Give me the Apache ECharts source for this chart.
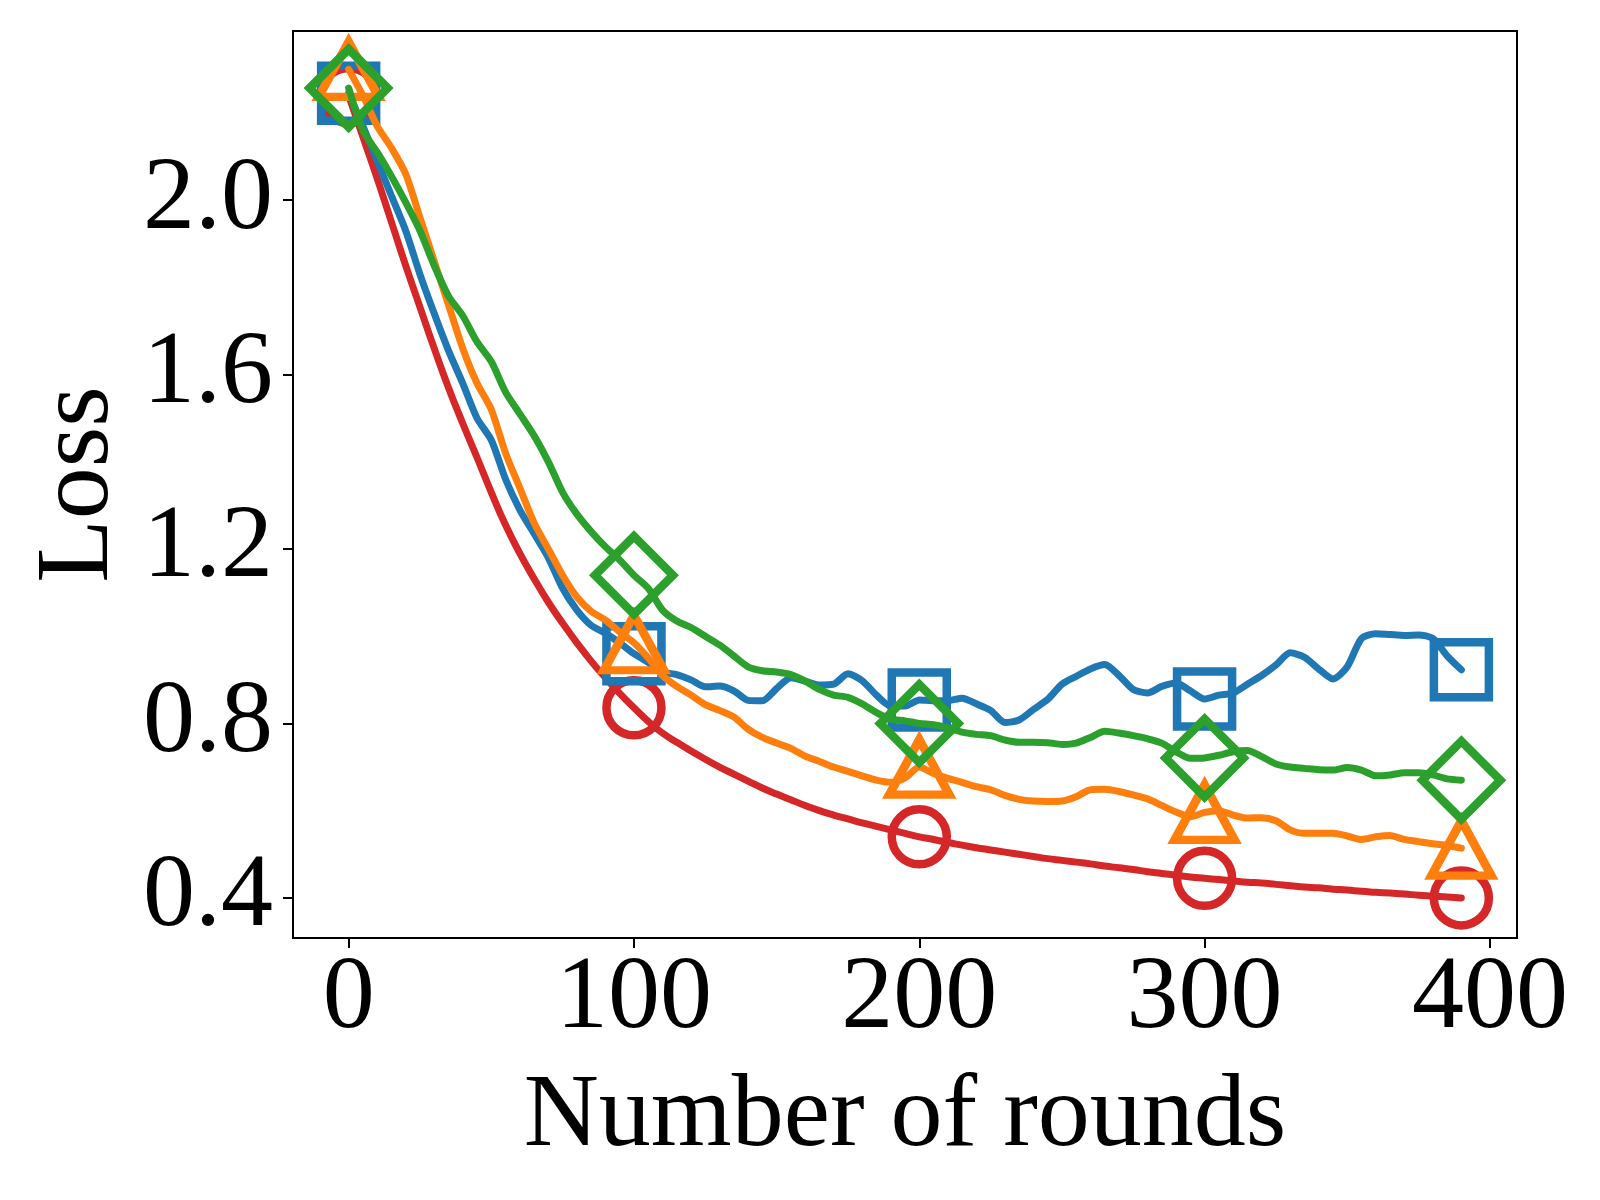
<!DOCTYPE html>
<html>
<head>
<meta charset="utf-8">
<title>Loss vs rounds</title>
<script src="https://cdn.jsdelivr.net/npm/echarts@6/dist/echarts.min.js"></script>
<style>
  html, body { margin: 0; padding: 0; background: #fff; }
  #chart { width: 1600px; height: 1200px; }
</style>
</head>
<body>
<div id="chart"></div>
<script>
// values, one every 5 rounds (0 .. 390)
const blue = [
  2.245, 2.17, 2.09, 2.01, 1.93, 1.83, 1.74, 1.655, 1.58, 1.50,
  1.45, 1.36, 1.29, 1.235, 1.18, 1.11, 1.06, 1.025, 1.007, 0.985,
  0.96, 0.94, 0.918, 0.912, 0.90, 0.884, 0.886, 0.875, 0.853, 0.852,
  0.88, 0.905, 0.897, 0.888, 0.89, 0.914, 0.898, 0.865, 0.84, 0.84,
  0.854, 0.852, 0.852, 0.858, 0.845, 0.83, 0.802, 0.808, 0.832, 0.855,
  0.89, 0.908, 0.925, 0.935, 0.91, 0.878, 0.87, 0.885, 0.893, 0.875,
  0.856, 0.865, 0.87, 0.89, 0.91, 0.934, 0.962, 0.952, 0.925, 0.902,
  0.93, 0.995, 1.006, 1.004, 1.002, 1.003, 0.995, 0.955, 0.923
]
const orange = [
  2.30, 2.24, 2.17, 2.12, 2.06, 1.96, 1.86, 1.76, 1.66, 1.58,
  1.52, 1.42, 1.34, 1.26, 1.20, 1.14, 1.09, 1.057, 1.037, 1.01,
  0.985, 0.95, 0.91, 0.885, 0.865, 0.843, 0.83, 0.815, 0.787, 0.768,
  0.755, 0.743, 0.725, 0.713, 0.70, 0.69, 0.68, 0.67, 0.665, 0.675,
  0.70, 0.685, 0.674, 0.665, 0.655, 0.648, 0.635, 0.626, 0.622, 0.621,
  0.622, 0.632, 0.648, 0.649, 0.644, 0.636, 0.627, 0.612, 0.597, 0.586,
  0.596, 0.60, 0.59, 0.583, 0.584, 0.577, 0.556, 0.548, 0.548, 0.548,
  0.542, 0.534, 0.54, 0.543, 0.534, 0.529, 0.524, 0.52, 0.514
]
const green = [
  2.257, 2.16, 2.11, 2.055, 1.995, 1.93, 1.85, 1.78, 1.735, 1.675,
  1.63, 1.56, 1.51, 1.46, 1.40, 1.33, 1.28, 1.24, 1.205, 1.175,
  1.14, 1.11, 1.06, 1.035, 1.02, 1.00, 0.98, 0.955, 0.93, 0.921,
  0.918, 0.912, 0.897, 0.878, 0.865, 0.86, 0.845, 0.825, 0.81, 0.806,
  0.80, 0.797, 0.79, 0.78, 0.775, 0.772, 0.762, 0.757, 0.757, 0.756,
  0.752, 0.755, 0.768, 0.782, 0.778, 0.772, 0.765, 0.755, 0.735, 0.72,
  0.721, 0.727, 0.735, 0.738, 0.724, 0.707, 0.70, 0.697, 0.694, 0.693,
  0.699, 0.693, 0.68, 0.682, 0.687, 0.687, 0.682, 0.673, 0.670
]
const red = [
  2.24, 2.145, 2.05, 1.95, 1.85, 1.755, 1.66, 1.57, 1.488, 1.41,
  1.33, 1.255, 1.19, 1.132, 1.078, 1.03, 0.985, 0.943, 0.905, 0.869,
  0.836, 0.805, 0.778, 0.757, 0.737, 0.718, 0.70, 0.684, 0.668, 0.652,
  0.638, 0.625, 0.612, 0.60, 0.59, 0.581, 0.572, 0.564, 0.556, 0.548,
  0.54, 0.534, 0.527, 0.521, 0.515, 0.51, 0.505, 0.50, 0.495, 0.49,
  0.486, 0.482, 0.478, 0.473, 0.469, 0.465, 0.46, 0.456, 0.452, 0.448,
  0.445, 0.442, 0.439, 0.436, 0.434, 0.431, 0.428, 0.425, 0.423, 0.42,
  0.418, 0.415, 0.413, 0.411, 0.409, 0.406, 0.404, 0.402, 0.40
]
const rounds = blue.map((_, i) => i * 5)
const markRounds = [0, 100, 200, 300, 390]
const xTicks = [0, 100, 200, 300, 400]
const yTicks = [0.4, 0.8, 1.2, 1.6, 2.0]

const font = '"Liberation Serif", "Times New Roman", serif'

// drawn bottom to top, like the matplotlib picture
const curves = [
  { vals: red, color: '#d62728', symbol: 'circle', size: 55, smooth: 0.5 },
  { vals: blue, color: '#1f77b4', symbol: 'rect', size: 55, smooth: 0.25 },
  { vals: orange, color: '#ff7f0e', symbol: 'triangle', size: [60, 55], smooth: 0.25 },
  { vals: green, color: '#2ca02c', symbol: 'diamond', size: 78, smooth: 0.25 }
]

const series = []
curves.forEach((c, k) => {
  series.push({
    type: 'line',
    data: rounds.map((r, i) => [r, c.vals[i]]),
    showSymbol: false,
    smooth: c.smooth,
    z: 2 + k * 2,
    lineStyle: { color: c.color, width: 7, cap: 'round', join: 'round' },
    emphasis: { disabled: true }
  })
  series.push({
    type: 'scatter',
    data: markRounds.map(r => [r, c.vals[rounds.indexOf(r)]]),
    symbol: c.symbol,
    symbolSize: c.size,
    z: 3 + k * 2,
    itemStyle: { color: 'rgba(0,0,0,0)', borderColor: c.color, borderWidth: 8.5, opacity: 1 },
    emphasis: { disabled: true }
  })
})

const tickStyle = { show: true, length: 10, inside: false, lineStyle: { color: '#000', width: 2 } }

const option = {
  animation: false,
  backgroundColor: '#fff',
  grid: {
    left: 293, right: 83, top: 31, bottom: 262,
    outerBoundsMode: 'none',
    containLabel: false,
    show: true, borderColor: '#000', borderWidth: 2
  },
  xAxis: {
    type: 'value',
    min: -19.5,
    max: 409.5,
    name: 'Number of rounds',
    nameLocation: 'middle',
    nameGap: 128,
    nameTextStyle: { fontFamily: font, fontSize: 104, color: '#000' },
    axisLine: { show: true, onZero: false, lineStyle: { color: '#000', width: 2 } },
    axisTick: Object.assign({ customValues: xTicks }, tickStyle),
    axisLabel: { customValues: xTicks, fontFamily: font, fontSize: 104, color: '#000', margin: 10 },
    splitLine: { show: false }
  },
  yAxis: {
    type: 'value',
    min: 0.308,
    max: 2.388,
    name: 'Loss',
    nameLocation: 'middle',
    nameGap: 161,
    nameRotate: 90,
    nameTextStyle: { fontFamily: font, fontSize: 104, color: '#000' },
    axisLine: { show: true, onZero: false, lineStyle: { color: '#000', width: 2 } },
    axisTick: Object.assign({ customValues: yTicks }, tickStyle),
    axisLabel: {
      customValues: yTicks,
      fontFamily: font,
      fontSize: 104,
      color: '#000',
      margin: 20,
      formatter: v => v.toFixed(1)
    },
    splitLine: { show: false }
  },
  series: series
}

const chart = echarts.init(document.getElementById('chart'), null, { renderer: 'canvas' })
chart.setOption(option)
</script>
</body>
</html>
